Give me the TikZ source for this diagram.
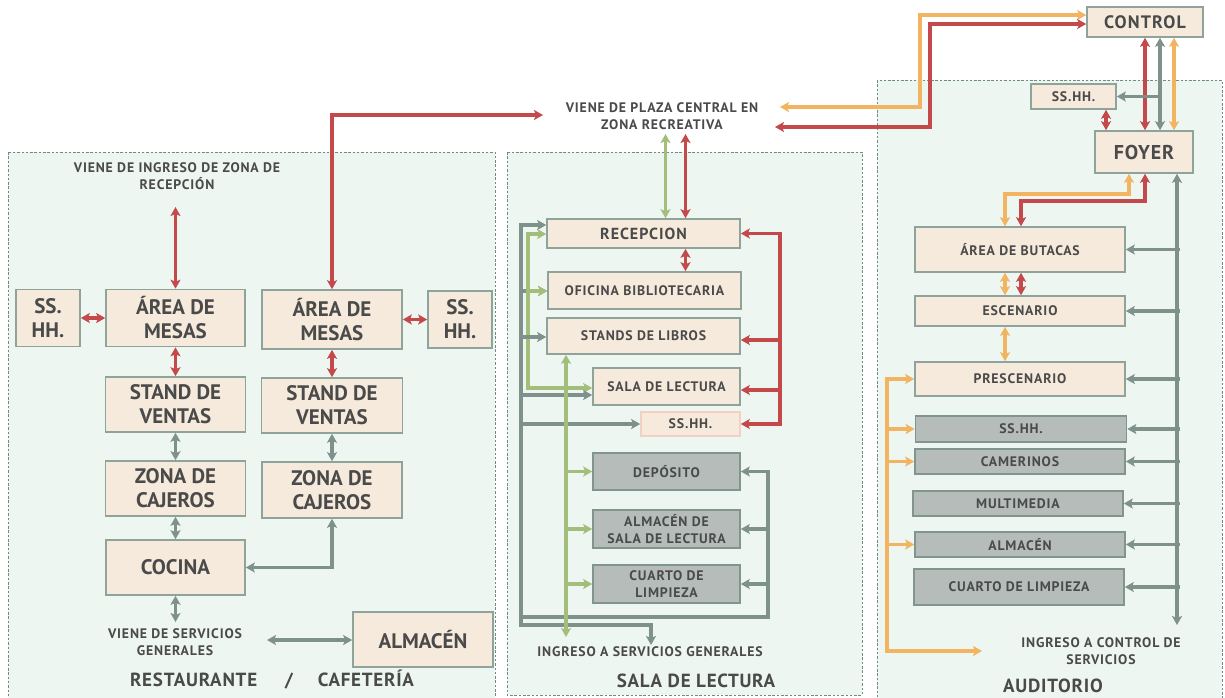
\documentclass[tikz,border=0pt]{standalone}
\usepackage{fontspec}
\setmainfont{PT Sans}
\newfontfamily\spfont{PT Sans}[LetterSpace=6]
\newfontfamily\tifont{PT Sans}[LetterSpace=4]
\usetikzlibrary{arrows.meta}

\definecolor{panelfill}{HTML}{EEF6F2}
\definecolor{panelline}{HTML}{6E8C80}
\definecolor{beige}{HTML}{F6EADC}
\definecolor{boxline}{HTML}{8FA39A}
\definecolor{grayfill}{HTML}{B5BCB9}
\definecolor{grayline}{HTML}{7F958E}
\definecolor{pinkline}{HTML}{F3CFC4}
\definecolor{txt}{HTML}{4A4A4A}
\definecolor{cred}{HTML}{C4494B}
\definecolor{cgray}{HTML}{7E918B}
\definecolor{cgreen}{HTML}{A3BE7A}
\definecolor{corange}{HTML}{F2B461}

\tikzset{
  panel/.style={fill=panelfill, draw=panelline, line width=0.8pt, dash pattern=on 2.5pt off 1.8pt},
  box/.style={draw=boxline, fill=beige, line width=1.6pt, inner sep=0pt, align=center, text=txt},
  gbox/.style={box, fill=grayfill, draw=grayline},
  lbl/.style={align=center, text=txt, inner sep=0pt},
  fbig/.style={font=\bfseries\fontsize{21}{24}\selectfont},
  fmid/.style={font=\spfont\bfseries\fontsize{16}{19}\selectfont},
  fsml/.style={font=\spfont\bfseries\fontsize{13.8}{16.5}\selectfont},
  ftitle/.style={font=\tifont\bfseries\fontsize{19}{22}\selectfont},
  rd/.style={draw=cred, line width=3.4pt},
  gy/.style={draw=cgray, line width=3.4pt},
  gn/.style={draw=cgreen, line width=3.2pt},
  og/.style={draw=corange, line width=3.2pt},
}

\begin{document}
\begin{tikzpicture}[x=1pt, y=-1pt, >={Stealth[length=9pt,width=10pt,inset=2pt]}]
\useasboundingbox[fill=white] (0,0) rectangle (1225,697);
\clip (0,0) rectangle (1225,697);

% ---------- zone panels ----------
\draw[panel] (8,152) rectangle (495,705);
\draw[panel] (507,152) rectangle (862,695);
\draw[panel] (877,80) rectangle (1222,705);

% ---------- RESTAURANTE / CAFETERIA ----------
\node[lbl,fsml] (lrecep) at (177,176) {VIENE DE INGRESO DE ZONA DE\\RECEPCIÓN};
\node[box,fbig,minimum width=64,minimum height=57] (lss) at (48,318) {SS.\\HH.};
\node[box,fbig,minimum width=139,minimum height=57] (lmesa) at (175.5,318) {ÁREA DE\\MESAS};
\node[box,fbig,minimum width=140,minimum height=59] (rmesa) at (332,319.5) {ÁREA DE\\MESAS};
\node[box,fbig,minimum width=64,minimum height=57] (rss) at (460,319.5) {SS.\\HH.};
\node[box,fbig,minimum width=140,minimum height=55] (lstand) at (175.5,404.5) {STAND DE\\VENTAS};
\node[box,fbig,minimum width=141,minimum height=55] (rstand) at (332,405.5) {STAND DE\\VENTAS};
\node[box,fbig,minimum width=140,minimum height=55] (lcaj) at (175.5,488.5) {ZONA DE\\CAJEROS};
\node[box,fbig,minimum width=140,minimum height=56] (rcaj) at (332,490) {ZONA DE\\CAJEROS};
\node[box,fbig,minimum width=139,minimum height=55] (cocina) at (175.5,567.5) {COCINA};
\node[box,fbig,minimum width=140,minimum height=55] (ralm) at (423,639.5) {ALMACÉN};
\node[lbl,fsml] (lserv) at (175,642) {VIENE DE SERVICIOS\\GENERALES};
\node[lbl,ftitle] (ltitle) at (272,680) {RESTAURANTE\hspace{28pt}/\hspace{25pt}CAFETERÍA};

\coordinate (lin) at (175.5,207);
\coordinate (lout) at (175.5,622);
\coordinate (lalm) at (267,640);
\coordinate (plzL) at (543,115);

\draw[rd,<->] (lin) -- (lmesa.north);
\draw[rd,<->] (lss.east) -- (lmesa.west);
\draw[rd,<->] (rmesa.east) -- (rss.west);
\draw[rd,<->] (lmesa.south) -- (lstand.north);
\draw[rd,<->] (rmesa.south) -- (rstand.north);
\draw[rd,<->] (rmesa.north) |- (plzL);
\draw[gy,<->] (lstand.south) -- (lcaj.north);
\draw[gy,<->] (rstand.south) -- (rcaj.north);
\draw[gy,<->] (lcaj.south) -- (cocina.north);
\draw[gy,<->] (cocina.east) -| (rcaj.south);
\draw[gy,<->] (cocina.south) -- (lout);
\draw[gy,<->] (lalm) -- (ralm.west |- lalm);

% ---------- SALA DE LECTURA ----------
\node[lbl,fsml] (plaza) at (662,116) {VIENE DE PLAZA CENTRAL EN\\ZONA RECREATIVA};
\node[box,fmid,minimum width=193,minimum height=29] (recep) at (643.5,233.5) {RECEPCION};
\node[box,fsml,minimum width=193,minimum height=37] (ofic) at (644.5,290.5) {OFICINA BIBLIOTECARIA};
\node[box,fsml,minimum width=193,minimum height=36] (stands) at (643.5,336) {STANDS DE LIBROS};
\node[box,fsml,minimum width=147,minimum height=37] (sala) at (666.5,386.5) {SALA DE LECTURA};
\node[box,fsml,draw=pinkline,minimum width=99,minimum height=24] (mss) at (690.5,424) {SS.HH.};
\node[gbox,fsml,minimum width=147,minimum height=37] (depo) at (666.5,471.5) {DEPÓSITO};
\node[gbox,fsml,minimum width=147,minimum height=38] (almsl) at (666.5,529) {ALMACÉN DE\\SALA DE LECTURA};
\node[gbox,fsml,minimum width=147,minimum height=38] (cuarto) at (666.5,584) {CUARTO DE\\LIMPIEZA};
\node[lbl,fsml] (ingsg) at (650,652) {INGRESO A SERVICIOS GENERALES};
\node[lbl,ftitle] (mtitle) at (696,681) {SALA DE LECTURA};

\coordinate (pg) at (665.5,134);
\coordinate (pr) at (685.5,134);
\coordinate (gsout) at (651,645);
\coordinate (gnout) at (566,637);

% access from the plaza and red service bus
\draw[gn,<->] (pg) -- (pg |- recep.north);
\draw[rd,<->] (pr) -- (pr |- recep.north);
\draw[rd,<->] (pr |- recep.south) -- (pr |- ofic.north);
\draw[rd,<->] (recep.east) -| (780,424) -- (mss.east);
\draw[rd,->] (780,340) -- (stands.east |- 0,340);
\draw[rd,->] (780,390) -- (sala.east |- 0,390);

% gray bus on the left, green loop beside it
\draw[gy,->] (521,291) -- (ofic.west |- 0,291);
\draw[gn,<->] (recep.west |- 0,234) -| (528,388) -- (sala.west |- 0,388);
\draw[gn,->] (528,291) -- (ofic.west |- 0,291);
\draw[gy,<->] (recep.west |- 0,225) -| (521,625) -| (gsout);
\draw[gy,->] (521,337) -- (stands.west |- 0,337);
\draw[gy,->] (521,395) -- (sala.west |- 0,395);
\draw[gy,->] (521,424) -- (mss.west);

% gray bus on the right of the service rooms
\draw[gy,<-] (depo.east) -| (768,617) -- (521,617);
\draw[gy,->] (768,529) -- (almsl.east);
\draw[gy,->] (768,584) -- (cuarto.east);

% green bus to the service rooms
\draw[gn,<->] (stands.south -| gnout) -- (gnout);
\draw[gn,->] (566,471.5) -- (depo.west);
\draw[gn,->] (566,529) -- (almsl.west);
\draw[gn,->] (566,584) -- (cuarto.west);

% ---------- AUDITORIO ----------
\node[box,font=\spfont\bfseries\fontsize{18}{21}\selectfont,minimum width=116,minimum height=30] (control) at (1145,22) {CONTROL};
\node[box,fsml,minimum width=85,minimum height=25] (ass) at (1073.5,96.5) {SS.HH.};
\node[box,font=\tifont\bfseries\fontsize{20}{23}\selectfont,minimum width=98,minimum height=42] (foyer) at (1144,152) {FOYER};
\node[box,fsml,minimum width=210,minimum height=45] (butacas) at (1020,249.5) {ÁREA DE BUTACAS};
\node[box,fsml,minimum width=210,minimum height=30] (escen) at (1020,311) {ESCENARIO};
\node[box,fsml,minimum width=210,minimum height=34] (presc) at (1020,379) {PRESCENARIO};
\node[gbox,fsml,minimum width=211,minimum height=26] (ass2) at (1021,429) {SS.HH.};
\node[gbox,fsml,minimum width=210,minimum height=25] (camer) at (1020,461.5) {CAMERINOS};
\node[gbox,fsml,minimum width=210,minimum height=25] (multi) at (1018,503.5) {MULTIMEDIA};
\node[gbox,fsml,minimum width=210,minimum height=25] (aalm) at (1020,544.5) {ALMACÉN};
\node[gbox,fsml,minimum width=210,minimum height=36] (alimp) at (1019,587) {CUARTO DE LIMPIEZA};
\node[lbl,fsml] (ingcs) at (1101,651) {INGRESO A CONTROL DE\\SERVICIOS};
\node[lbl,ftitle] (atitle) at (1053,686) {AUDITORIO};

\coordinate (plzO) at (780,107);
\coordinate (plzR) at (775,127);
\coordinate (gbend) at (1177,625);
\coordinate (oend) at (982,651);

% links from the plaza to the control room
\draw[og,<->] (plzO) -| (920,15) -- (control.west |- 0,15);
\draw[rd,<->] (plzR) -| (930,24) -- (control.west |- 0,24);

% control room to foyer
\draw[rd,<->] (control.south -| 1145,0) -- (foyer.north -| 1145,0);
\draw[gy,<->] (control.south -| 1160,0) -- (foyer.north -| 1160,0);
\draw[og,<->] (control.south -| 1174,0) -- (foyer.north -| 1174,0);
\draw[gy,->] (1160,96.5) -- (ass.east);
\draw[rd,<->] (ass.south -| 1106,0) -- (foyer.north -| 1106,0);

% foyer to the hall and stage
\draw[og,<->] (foyer.south -| 1129,0) |- (1005,194) -- (butacas.north -| 1005,0);
\draw[rd,<->] (foyer.south -| 1145,0) |- (1021,201) -- (butacas.north -| 1021,0);
\draw[og,<->] (butacas.south -| 1005,0) -- (escen.north -| 1005,0);
\draw[rd,<->] (butacas.south -| 1021,0) -- (escen.north -| 1021,0);
\draw[og,<->] (escen.south -| 1005,0) -- (presc.north -| 1005,0);

% gray service bus
\draw[gy,<->] (foyer.south -| gbend) -- (gbend);
\foreach \n in {butacas,escen,presc,ass2,camer,multi,aalm,alimp}
  \draw[gy,->] (\n.east -| 1180,0) -- (\n.east);

% orange bus behind the stage
\draw[og,<->] (presc.west) -| (887,651) -- (oend);
\foreach \n in {ass2,camer,aalm}
  \draw[og,->] (\n.west -| 887,0) -- (\n.west);
\end{tikzpicture}
\end{document}
